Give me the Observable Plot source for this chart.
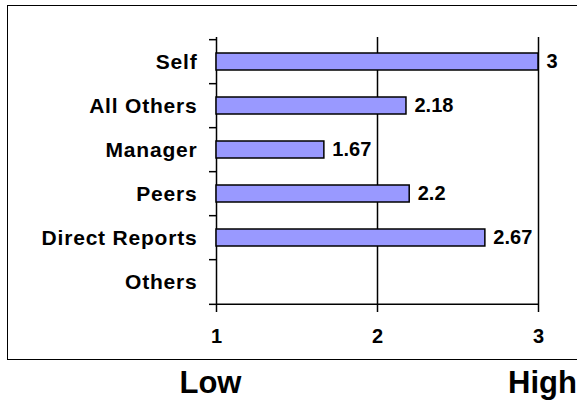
<!DOCTYPE html>
<html>
<head>
<meta charset="utf-8">
<script src="https://cdn.jsdelivr.net/npm/d3@7"></script>
<script src="https://cdn.jsdelivr.net/npm/@observablehq/plot@0.6"></script>
<style>
  body { margin: 0; background: #fff; }
  #chart { position: relative; width: 577px; height: 400px; overflow: hidden; }
  #box { position: absolute; left: 7px; top: 5px; width: 620px; height: 353px; border: 1px solid #000; pointer-events: none; }
  #chart svg { display: block; }
</style>
</head>
<body>
<div id="chart"><div id="box"></div></div>
<script>
// Rater groups, top to bottom, and their average scores (Others has no score)
const categories = ["Self", "All Others", "Manager", "Peers", "Direct Reports", "Others"];
const scores = [3, 2.18, 1.67, 2.2, 2.67, null];
const xTicks = [1, 2, 3];
const scaleEnds = ["Low", "High"];
const scaleEndValues = [1, 3];

const rows = categories.map((category, i) => ({category, score: scores[i]}));
const bars = rows.filter(d => d.score != null);

const W = 577, H = 400;
const M = {top: 37, right: 39, bottom: 95, left: 216};
const step = (H - M.top - M.bottom) / categories.length;

const svg = Plot.plot({
  width: W,
  height: H,
  marginTop: M.top,
  marginRight: M.right,
  marginBottom: M.bottom,
  marginLeft: M.left,
  style: {fontFamily: "'Liberation Sans', Arial, sans-serif", fontWeight: "bold", color: "#000", background: "transparent", overflow: "visible"},
  x: {domain: [xTicks[0], xTicks[xTicks.length - 1]], axis: null},
  y: {domain: categories, paddingInner: 0.62, paddingOuter: 0.31, axis: null},
  marks: [
    // vertical lines at each score step (left one doubles as the axis line)
    Plot.ruleX(xTicks, {stroke: "#000", strokeWidth: 1.5}),
    // horizontal axis line along the bottom of the last band
    Plot.ruleY([categories[categories.length - 1]], {dy: step / 2, stroke: "#000", strokeWidth: 1.5}),
    // boundary ticks between categories
    Plot.axisY({tickSize: 7, tickFormat: () => "", dy: -step / 2, label: null, strokeWidth: 1.5}),
    Plot.axisY({ticks: [categories[categories.length - 1]], tickSize: 7, tickFormat: () => "", dy: step / 2, label: null, strokeWidth: 1.5}),
    // category labels
    Plot.axisY({tickSize: 0, tickPadding: 19, fontSize: 21, label: null}),
    // bottom axis
    Plot.axisX({ticks: xTicks, tickSize: 7, tickPadding: 16, fontSize: 20, tickFormat: d => String(d), label: null, strokeWidth: 1.5}),
    // bars
    Plot.barX(bars, {x1: () => xTicks[0], x2: "score", y: "category", fill: "#9999ff", stroke: "#000", strokeWidth: 1.5}),
    // value labels
    Plot.text(bars, {x: "score", y: "category", text: d => String(d.score), dx: 8, textAnchor: "start", fontSize: 20}),
    // scale ends
    Plot.text([scaleEnds[0]], {x: () => scaleEndValues[0], text: d => d, frameAnchor: "bottom", lineAnchor: "bottom", dy: 87, dx: -6, fontSize: 31}),
    Plot.text([scaleEnds[1]], {x: () => scaleEndValues[1], text: d => d, frameAnchor: "bottom", lineAnchor: "bottom", dy: 87, dx: 4, fontSize: 31})
  ]
});

// slightly wider tracking on the category names
d3.select(svg).selectAll("text")
  .filter(function () { return categories.includes(this.textContent); })
  .style("letter-spacing", "0.8px");

document.getElementById("chart").prepend(svg);
</script>
</body>
</html>
